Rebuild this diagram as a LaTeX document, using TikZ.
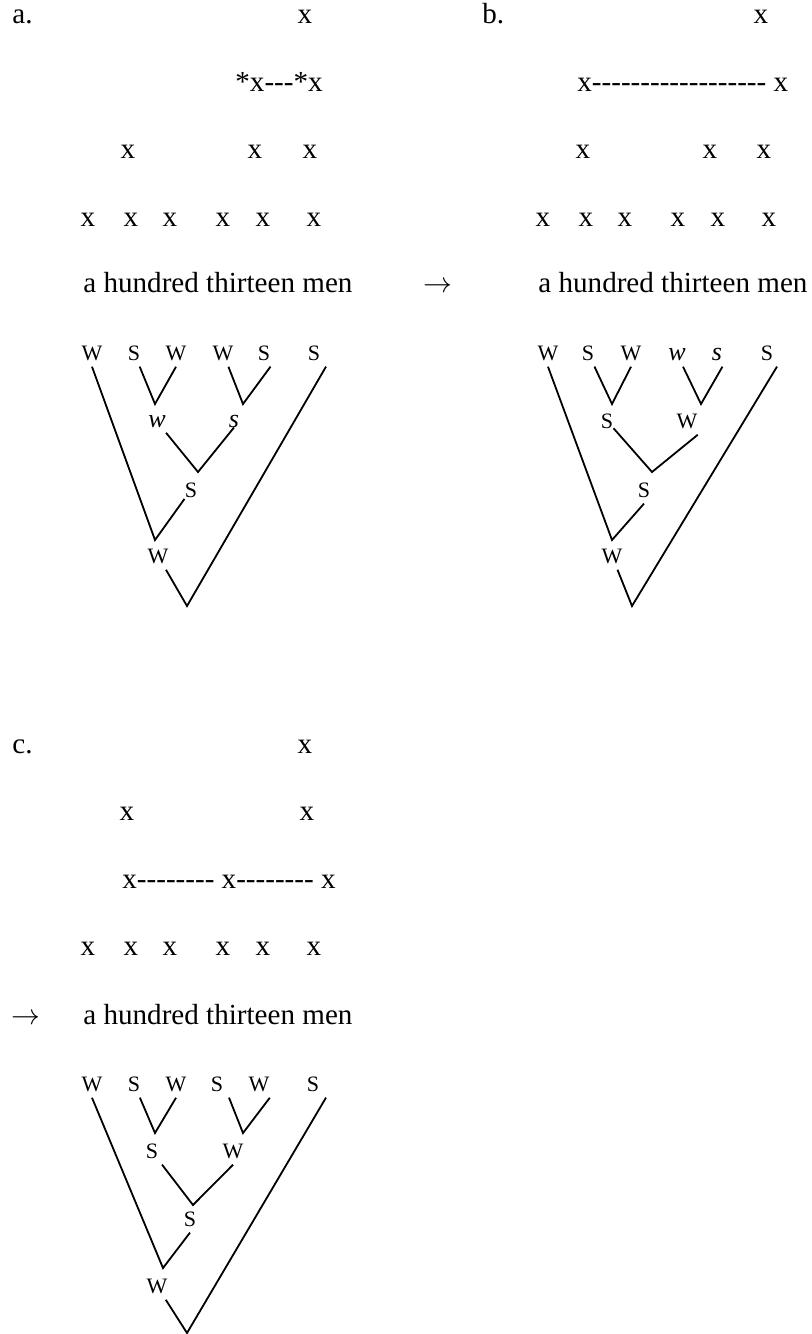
\documentclass[tikz,border=0pt]{standalone}
\usepackage{fontspec}
\setmainfont{Liberation Serif}[Ligatures=TeXOff]

\begin{document}
\begin{tikzpicture}[
        x=0.5pt, y=-0.5pt,
        beat/.style={anchor=base, inner sep=0pt, font=\fontsize{14.55}{17}\selectfont},
        words/.style={beat, anchor=base west},
        lab/.style={anchor=base, inner xsep=0pt, inner ysep=3pt,
                    font=\fontsize{11}{13}\selectfont},
        ital/.style={lab, font=\fontsize{13}{15}\selectfont\itshape},
        branch/.style={line width=0.9pt},
    ]
    \useasboundingbox (0,0) rectangle (811,1334);

    % Panel a - grid
    \node[words] (atag) at (12,23) {a.};
    \node[beat] (atop) at (305,23.5) {x};
    \node[words] (arow2) at (235,91.5) {*x---*x};
    \foreach \xpos [count=\i] in {128,255,310}
        \node[beat] (arow3-\i) at (\xpos,158.5) {x};
    \foreach \xpos [count=\i] in {88,131,170,223,263,314}
        \node[beat] (arow4-\i) at (\xpos,226.5) {x};
    \node[words] (atext) at (83,292) {a hundred thirteen men};

    % Panel a - tree
    \foreach \xpos/\txt [count=\i] in {92/W,134/S,176/W,223/W,264/S,314/S}
        \node[lab] (a\i) at (\xpos,360) {\txt};
    \node[ital] (a7) at (157,427.5) {w};
    \node[ital] (a8) at (234,427.5) {s};
    \node[lab] (a9) at (191,497) {S};
    \node[lab] (a10) at (158,563) {W};
    \coordinate (aj1) at (155,404);
    \coordinate (aj2) at (243,404);
    \coordinate (aj3) at (198,472);
    \coordinate (aj4) at (155,540);
    \coordinate (aj5) at (187,606);
    \draw[branch] (a2) -- (aj1) -- (a3.south);
    \draw[branch] (a4) -- (aj2) -- (a5.south east);
    \draw[branch] (a7) -- (aj3) -- (a8.base);
    \draw[branch] (a1.south) -- (aj4) -- (a9);
    \draw[branch] (a10) -- (aj5) -- ([xshift=6pt]a6.south);

    % Panel b
    \begin{scope}[shift={(455,0)}]
        \node[words] (btag) at (27,23) {b.};
        \node[beat] (btop) at (306,23.5) {x};
        \node[words] (brow2) at (122,91.5) {x------------------ x};
        \foreach \xpos [count=\i] in {128,255,309}
            \node[beat] (brow3-\i) at (\xpos,158.5) {x};
        \foreach \xpos [count=\i] in {88,131,170,223,263,314}
            \node[beat] (brow4-\i) at (\xpos,226.5) {x};
        \node[words] (barrow) at (-32,292) {$\rightarrow$};
        \node[words] (btext) at (83,292) {a hundred thirteen men};

        % tree
        \foreach \xpos/\sty/\txt [count=\i] in
            {93/lab/W,133/lab/S,176/lab/W,222/ital/w,262/ital/s,312/lab/S}
            \node[\sty] (b\i) at (\xpos,360) {\txt};
        \node[lab] (b7) at (152,428) {S};
        \node[lab] (b8) at (232,428) {W};
        \node[lab] (b9) at (189,497) {S};
        \node[lab] (b10) at (157,563) {W};
        \coordinate (bj1) at (157,404);
        \coordinate (bj2) at (246,404);
        \coordinate (bj3) at (197,472);
        \coordinate (bj4) at (157,540);
        \coordinate (bj5) at (177,606);
        \draw[branch] (b2) -- (bj1) -- (b3.south);
        \draw[branch] (b4) -- (bj2) -- (b5.south east);
        \draw[branch] (b7) -- (bj3) -- (b8.south east);
        \draw[branch] (b1.south) -- (bj4) -- (b9.south);
        \draw[branch] (b10) -- (bj5) -- ([xshift=5pt]b6.south);
    \end{scope}

    % Panel c
    \begin{scope}[shift={(0,730)}]
        \node[words] (ctag) at (12,23) {c.};
        \node[beat] (ctop) at (305,23.5) {x};
        \foreach \xpos [count=\i] in {127,307}
            \node[beat] (crow2-\i) at (\xpos,90) {x};
        \node[words] (crow3) at (122,158.5) {x-------- x-------- x};
        \foreach \xpos [count=\i] in {88,131,170,223,263,314}
            \node[beat] (crow4-\i) at (\xpos,225) {x};
        \node[words] (carrow) at (11,294) {$\rightarrow$};
        \node[words] (ctext) at (83,294) {a hundred thirteen men};

        % tree
        \foreach \xpos/\txt [count=\i] in {92/W,134/S,176/W,217/S,259/W,313/S}
            \node[lab] (c\i) at (\xpos,361) {\txt};
        \node[lab] (c7) at (152,428) {S};
        \node[lab] (c8) at (233,428) {W};
        \node[lab] (c9) at (190,496) {S};
        \node[lab] (c10) at (157,563) {W};
        \coordinate (cj1) at (155,403);
        \coordinate (cj2) at (243,403);
        \coordinate (cj3) at (193,475);
        \coordinate (cj4) at (163,538);
        \coordinate (cj5) at (187,603);
        \draw[branch] (c2) -- (cj1) -- (c3.south);
        \draw[branch] ([xshift=6pt]c4.south) -- (cj2) -- (c5.south east);
        \draw[branch] ([xshift=5pt]c7.south) -- (cj3) -- (c8.south);
        \draw[branch] (c1.south) -- (cj4) -- (c9.south);
        \draw[branch] (c10) -- (cj5) -- ([xshift=6.5pt]c6.south);
    \end{scope}

\end{tikzpicture}
\end{document}
